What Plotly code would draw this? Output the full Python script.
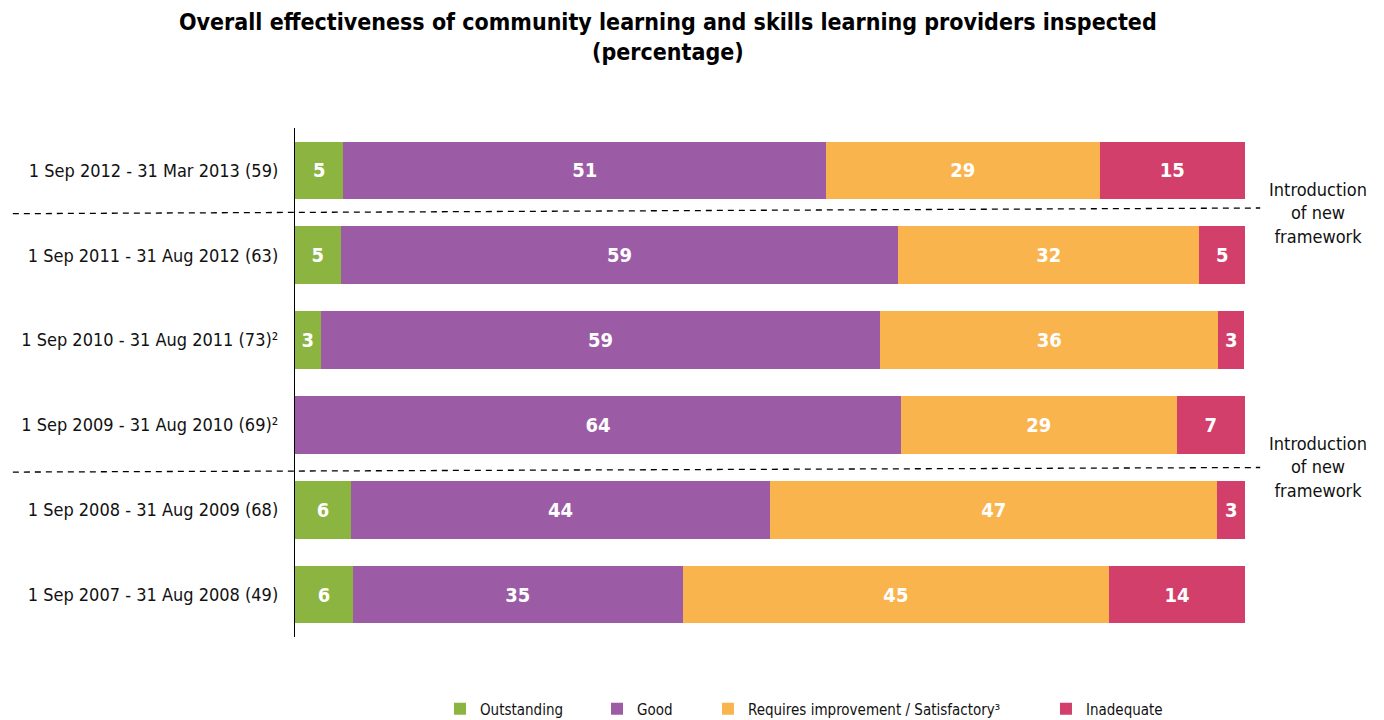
import plotly.graph_objects as go

periods = [
    "1 Sep 2012 - 31 Mar 2013 (59)",
    "1 Sep 2011 - 31 Aug 2012 (63)",
    "1 Sep 2010 - 31 Aug 2011 (73)²",
    "1 Sep 2009 - 31 Aug 2010 (69)²",
    "1 Sep 2008 - 31 Aug 2009 (68)",
    "1 Sep 2007 - 31 Aug 2008 (49)",
]
series_names = ["Outstanding", "Good", "Requires improvement / Satisfactory³", "Inadequate"]
outstanding = [5.1, 4.8, 2.7, 0.0, 5.9, 6.1]
good = [50.8, 58.7, 58.9, 63.8, 44.1, 34.7]
requires = [28.8, 31.7, 35.6, 29.0, 47.1, 44.9]
inadequate = [15.3, 4.8, 2.7, 7.2, 2.9, 14.3]
outstanding_labels = ["5", "5", "3", "", "6", "6"]
good_labels = ["51", "59", "59", "64", "44", "35"]
requires_labels = ["29", "32", "36", "29", "47", "45"]
inadequate_labels = ["15", "5", "3", "7", "3", "14"]
framework_note = "Introduction<br>of new<br>framework"
title_text = "<b>Overall effectiveness of community learning and skills learning providers inspected<br>(percentage)</b>"

colors = ["#8BB440", "#9B5BA5", "#F9B44E", "#D23F6B"]
FONT = "'DejaVu Sans Condensed', Tahoma, 'DejaVu Sans', sans-serif"

legend_ids = ["legend", "legend2", "legend3", "legend4"]
legend_x = [0.1526, 0.3179, 0.4347, 0.7905]

fig = go.Figure()
for name, vals, labels, col, lg in zip(
    series_names,
    [outstanding, good, requires, inadequate],
    [outstanding_labels, good_labels, requires_labels, inadequate_labels],
    colors, legend_ids,
):
    fig.add_trace(go.Bar(
        name=name, y=periods, x=vals, orientation="h",
        marker=dict(color=col, line=dict(width=0)),
        text=labels, textposition="inside", insidetextanchor="middle",
        textfont=dict(color="white", size=20, family=FONT),
        texttemplate="<b>%{text}</b>",
        constraintext="none",
        hoverinfo="skip",
        legend=lg,
    ))

# dashed separators (new framework introductions)
for yl, yr in [(0.51, 0.443), (3.556, 3.502)]:
    fig.add_shape(type="line", xref="paper", yref="y",
                  x0=-0.297, x1=1.016, y0=yl, y1=yr,
                  line=dict(color="black", width=1.3, dash="6px,5px"))

for yc in [0.5, 3.5]:
    fig.add_annotation(xref="paper", yref="y", x=1.0768, y=yc, text=framework_note,
                       showarrow=False, xanchor="center", yanchor="middle",
                       font=dict(size=18, color="#111111", family=FONT), align="center")

fig.add_annotation(xref="paper", yref="paper", x=0.3926, y=1.1787, text=title_text,
                   showarrow=False, xanchor="center", yanchor="middle",
                   font=dict(size=23, color="black", family=FONT), align="center")

legend_common = dict(orientation="h", xanchor="left", y=-0.1415, yanchor="middle",
                     font=dict(size=15, color="#111111", family=FONT),
                     itemwidth=30, bgcolor="rgba(0,0,0,0)")
layout_legends = {}
for lg, lx in zip(legend_ids, legend_x):
    layout_legends[lg] = dict(legend_common, x=lx)

fig.update_layout(
    width=1376, height=712,
    barmode="stack", bargap=0.32,
    plot_bgcolor="white", paper_bgcolor="white",
    margin=dict(l=287, r=139, t=120, b=83, autoexpand=False),
    xaxis=dict(range=[0, 100], visible=False),
    yaxis=dict(categoryorder="array", categoryarray=periods, range=[5.5, -0.5],
               showline=True, linecolor="black", linewidth=1.3, ticks="",
               showgrid=False, zeroline=False, ticklabelstandoff=12,
               tickfont=dict(size=18, color="#111111", family=FONT)),
    showlegend=True,
    **layout_legends,
)

fig.write_html("out.html")
